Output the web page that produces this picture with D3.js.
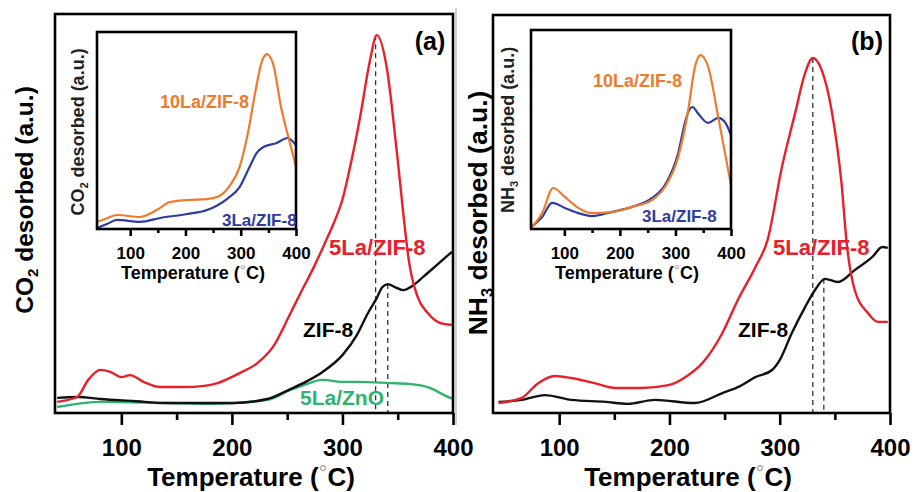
<!DOCTYPE html>
<html><head><meta charset="utf-8">
<script src="https://cdn.jsdelivr.net/npm/d3@7"></script>
<style>body{margin:0;background:#fff}svg{display:block}</style>
</head><body><svg id="c" width="915" height="492"></svg>
<script>
// ---------- data ----------
const majorTicks = [100, 200, 300, 400];
const minorTicks = [150, 250, 350];
const tempDomain = [40, 400];

// Panel (a) main: CO2-TPD
const co2_5LaZIF8 = [[42,2.8],[60,4.0],[70,8.3],[81,10.8],[90,10.3],[100,9.0],[108,9.5],[120,7.8],[135,6.5],[156,6.5],[175,6.8],[187,7.5],[207,10.0],[223,12.5],[237,16.5],[253,25.0],[262,30.0],[274,36.5],[284,42.5],[292,47.5],[300,53.5],[306,60.5],[316,74.2],[325,88.5],[331,94.7],[340,86.7],[349,65.9],[357,45.1],[360,38.3],[368,29.1],[377,25.1],[388,22.6],[399,22.1]];
const co2_ZIF8 = [[42,3.8],[61,4.0],[81,3.5],[111,3.0],[141,2.5],[171,2.5],[201,2.5],[232,3.5],[253,6.0],[268,8.0],[282,10.3],[300,14.5],[313,19.5],[323,25.0],[331,28.8],[336,31.5],[341,32.3],[348,31.5],[355,30.8],[364,32.0],[373,34.1],[385,37.0],[399,40.4]];
const co2_5LaZnO = [[42,1.5],[81,2.8],[141,2.5],[183,2.3],[232,3.3],[253,5.8],[265,7.0],[282,8.3],[300,7.8],[313,7.8],[343,7.5],[360,7.3],[379,6.3],[392,4.5],[400,3.5]];
const co2Drops = [[330,94.7],[341,32.3]];

// Panel (a) inset
const co2_10LaZIF8 = [[40,3.6],[58,5.5],[76,7.1],[118,6.1],[148,9.6],[172,13.7],[203,14.7],[239,15.2],[257,16.2],[281,22.3],[298,31.5],[313,48.7],[326,69.0],[338,84.8],[347,88.8],[358,84.3],[374,60.4],[389,43.7],[400,31.5]];
const co2_3LaZIF8 = [[40,0.5],[58,2.5],[76,4.6],[118,3.6],[154,5.6],[203,7.6],[239,9.6],[275,15.2],[298,21.3],[316,31.5],[329,38.6],[341,41.6],[365,43.7],[385,46.2],[400,42.5]];

// Panel (b) main: NH3-TPD
const nh3_5LaZIF8 = [[45,2.5],[66,3.8],[81,7.5],[96,9.3],[111,8.8],[132,7.5],[151,6.3],[175,6.3],[199,7.0],[217,9.5],[230,12.6],[248,20.1],[262,28.4],[278,36.7],[289,43.5],[302,61.8],[314,75.4],[323,85.4],[330,89.2],[338,86.2],[347,76.1],[356,57.8],[361,42.0],[368,30.9],[380,25.1],[389,22.9],[398,22.9]];
const nh3_ZIF8 = [[45,2.8],[66,3.3],[87,4.5],[111,3.3],[142,2.8],[162,2.3],[187,3.3],[223,2.5],[248,5.0],[262,6.5],[278,9.0],[293,10.8],[300,13.3],[311,20.1],[323,26.6],[332,30.9],[341,33.7],[353,32.9],[368,35.9],[384,39.2],[393,41.7],[398,41.5]];
const nh3Drops = [[330,89.2],[340,33.7]];

// Panel (b) inset
const nh3_10LaZIF8 = [[40,0.5],[60,8.0],[80,20.6],[101,16.1],[125,10.6],[149,8.0],[185,8.5],[222,11.1],[258,14.6],[281,21.1],[305,36.2],[323,59.8],[335,81.4],[345,87.4],[359,81.4],[377,56.3],[395,29.6],[400,22.0]];
const nh3_3LaZIF8 = [[40,1.0],[60,6.0],[78,13.1],[101,10.6],[125,8.0],[149,6.5],[185,8.5],[222,11.1],[258,15.6],[281,22.1],[305,38.2],[317,53.3],[325,60.0],[331,61.3],[340,58.3],[359,53.3],[377,55.8],[390,53.3],[400,47.0]];

// ---------- styles ----------
const FONT = "'Liberation Sans', Arial, Helvetica, sans-serif";
const C = {red:"#e8202a", black:"#111", green:"#2fb36e", orange:"#f07a2c", blue:"#2d3c9e"};

const svg = d3.select("#c").style("font-family", FONT);
svg.append("rect").attr("width",915).attr("height",492).attr("fill","#fff");
// panel divider artefact
svg.append("line").attr("x1",456).attr("x2",456).attr("y1",8).attr("y2",425).attr("stroke","#c4c4c4").attr("stroke-width",1.5);

let clipId = 0;
function plotBox(box, opt) {
  const x = d3.scaleLinear().domain(tempDomain).range([box.l, box.r]);
  const y = d3.scaleLinear().domain([0,100]).range([box.b, box.t]);
  const g = svg.append("g");
  g.append("rect").attr("x",box.l).attr("y",box.t).attr("width",box.r-box.l).attr("height",box.b-box.t).attr("fill","#fff");
  const id = "clip"+(clipId++);
  g.append("clipPath").attr("id",id).append("rect").attr("x",box.l).attr("y",box.t).attr("width",box.r-box.l).attr("height",box.b-box.t);
  const lines = g.append("g").attr("clip-path",`url(#${id})`);
  const line = d3.line().x(d=>x(d[0])).y(d=>y(d[1])).curve(d3.curveMonotoneX);
  (opt.drops||[]).forEach(d=>{
    lines.append("line").attr("x1",x(d[0])).attr("x2",x(d[0])).attr("y1",y(d[1])).attr("y2",box.b)
      .attr("stroke","#333").attr("stroke-width",1.3).attr("stroke-dasharray","5,4");
  });
  opt.series.forEach(s=>{
    lines.append("path").datum(s.data).attr("d",line).attr("fill","none")
      .attr("stroke",s.color).attr("stroke-width",opt.lw).attr("stroke-linejoin","round");
  });
  // minor ticks
  const minorAx = d3.axisBottom(x).tickValues(minorTicks).tickSize(opt.minor).tickFormat("");
  const gm = g.append("g").attr("transform",`translate(0,${box.b})`).call(minorAx);
  gm.select(".domain").remove();
  gm.selectAll("line").attr("stroke","#000").attr("stroke-width",opt.fw);
  const majorAx = d3.axisBottom(x).tickValues(majorTicks).tickSize(opt.major).tickPadding(opt.pad).tickFormat(d3.format("d"));
  const ga = g.append("g").attr("transform",`translate(0,${box.b})`).call(majorAx);
  ga.select(".domain").remove();
  ga.selectAll("line").attr("stroke","#000").attr("stroke-width",opt.fw);
  ga.selectAll("text").attr("font-family",FONT).attr("font-size",opt.tickFont).attr("font-weight","bold").attr("fill","#000");
  // frame
  g.append("rect").attr("x",box.l).attr("y",box.t).attr("width",box.r-box.l).attr("height",box.b-box.t)
    .attr("fill","none").attr("stroke","#000").attr("stroke-width",opt.fw);
  // x title
  const t = g.append("text").attr("x",opt.xt[0]).attr("y",opt.xt[1]).attr("text-anchor","middle")
    .attr("font-size",opt.titleFont).attr("font-weight","bold").attr("fill","#000");
  t.append("tspan").text("Temperature (");
  t.append("tspan").text("\u00B0").attr("font-size",opt.titleFont*0.85).attr("font-weight","normal").attr("fill","#a0a0a0").attr("dy",-opt.titleFont*0.2);
  t.append("tspan").text("C)").attr("dy",opt.titleFont*0.2);
  // y title
  const yt = g.append("text").attr("transform",`translate(${opt.yt[0]},${opt.yt[1]}) rotate(-90)`)
    .attr("text-anchor","middle").attr("font-size",opt.yFont).attr("font-weight","bold").attr("fill",opt.yColor||"#000");
  yt.append("tspan").text(opt.yMol[0]);
  yt.append("tspan").text(opt.yMol[1]).attr("font-size",opt.yFont*0.62).attr("dy",opt.yFont*0.22);
  yt.append("tspan").text(" desorbed (a.u.)").attr("dy",-opt.yFont*0.22);
  // series labels
  (opt.labels||[]).forEach(L=>{
    g.append("text").attr("x",L.x).attr("y",L.y).attr("font-size",L.size).attr("font-weight","bold")
      .attr("fill",L.color).text(L.text);
  });
  return {x,y,g};
}

// ---- Panel (a) ----
plotBox({l:55,r:453,t:14,b:413},{
  series:[{data:co2_5LaZnO,color:C.green},{data:co2_ZIF8,color:C.black},{data:co2_5LaZIF8,color:C.red}],
  drops:co2Drops, lw:2.4, fw:2.6, minor:7, major:12, pad:14, tickFont:24, titleFont:26,
  xt:[251,486], yt:[33,200], yFont:24.5, yMol:["CO","2"],
  labels:[
    {text:"5La/ZIF-8",x:329,y:255,size:22,color:C.red},
    {text:"ZIF-8",x:303,y:337,size:21,color:"#000"},
    {text:"5La/ZnO",x:300,y:405,size:21,color:C.green}]
});
svg.append("text").attr("x",430).attr("y",50).attr("text-anchor","middle").attr("font-size",25).attr("font-weight","bold").text("(a)");

plotBox({l:97,r:296,t:32,b:229},{
  series:[{data:co2_3LaZIF8,color:C.blue},{data:co2_10LaZIF8,color:C.orange}],
  lw:2.2, fw:2.6, minor:4, major:7, pad:11, tickFont:17, titleFont:18,
  xt:[193,279], yt:[84,132], yFont:18, yMol:["CO","2"], yColor:"#222",
  labels:[
    {text:"10La/ZIF-8",x:160,y:108,size:18,color:C.orange},
    {text:"3La/ZIF-8",x:222,y:226,size:17,color:C.blue}]
});

// ---- Panel (b) ----
plotBox({l:493,r:890,t:15,b:413},{
  series:[{data:nh3_ZIF8,color:C.black},{data:nh3_5LaZIF8,color:C.red}],
  drops:nh3Drops, lw:2.4, fw:2.6, minor:7, major:12, pad:14, tickFont:24, titleFont:26,
  xt:[688,486], yt:[487,213], yFont:26.5, yMol:["NH","3"],
  labels:[
    {text:"5La/ZIF-8",x:773,y:255,size:22,color:C.red},
    {text:"ZIF-8",x:738,y:337,size:21,color:"#000"}]
});
svg.append("text").attr("x",867).attr("y",50).attr("text-anchor","middle").attr("font-size",25).attr("font-weight","bold").text("(b)");

plotBox({l:531,r:731,t:30,b:229},{
  series:[{data:nh3_3LaZIF8,color:C.blue},{data:nh3_10LaZIF8,color:C.orange}],
  lw:2.2, fw:2.6, minor:4, major:7, pad:11, tickFont:17, titleFont:18,
  xt:[627,279], yt:[514,130], yFont:18, yMol:["NH","3"], yColor:"#222",
  labels:[
    {text:"10La/ZIF-8",x:593,y:87,size:18,color:C.orange},
    {text:"3La/ZIF-8",x:642,y:222,size:17,color:C.blue}]
});
</script></body></html>
